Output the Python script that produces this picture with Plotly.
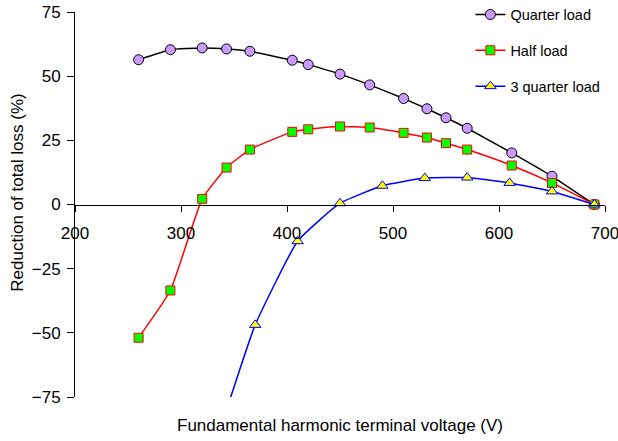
import plotly.graph_objects as go

# Data
quarter_x = [260, 290, 320, 343, 365, 405, 420, 450, 478, 510, 532, 550, 570, 612, 650, 690]
quarter_y = [56.4, 60.3, 61.0, 60.6, 59.7, 56.2, 54.5, 50.8, 46.6, 41.3, 37.3, 33.8, 29.7, 20.1, 11.0, 0.0]

half_x = [260, 290, 320, 343, 365, 405, 420, 450, 478, 510, 532, 550, 570, 612, 650, 690]
half_y = [-51.9, -33.5, 2.2, 14.4, 21.4, 28.3, 29.3, 30.4, 30.0, 27.9, 26.1, 23.9, 21.4, 15.2, 8.4, 0.0]

tq_x = [343, 370, 410, 450, 490, 530, 570, 610, 650, 690]
tq_y = [-80.0, -46.9, -14.3, 0.5, 7.3, 10.3, 10.5, 8.4, 5.1, 0.0]

x_ticks = [200, 300, 400, 500, 600, 700]
y_ticks = [-75, -50, -25, 0, 25, 50, 75]

FONT = "Liberation Sans, Arial, sans-serif"

fig = go.Figure()
fig.add_trace(go.Scatter(
    x=quarter_x, y=quarter_y, name="Quarter load", mode="lines+markers",
    line=dict(color="black", width=1.5, shape="spline", smoothing=0.4),
    marker=dict(symbol="circle", size=10, color="#CC99FF", line=dict(color="black", width=1)),
    legendgroup="a"))
fig.add_trace(go.Scatter(
    x=half_x, y=half_y, name="Half load", mode="lines+markers",
    line=dict(color="#FF0000", width=1.5, shape="spline", smoothing=0.4),
    marker=dict(symbol="square", size=9, color="#00FF00", line=dict(color="#FF0000", width=1)),
    legendgroup="b"))
fig.add_trace(go.Scatter(
    x=tq_x, y=tq_y, name="3 quarter load", mode="lines+markers",
    line=dict(color="#0000FF", width=1.5, shape="spline", smoothing=0.4),
    marker=dict(symbol="triangle-up", size=10, color="#FFFF00", line=dict(color="#0000FF", width=1)),
    legendgroup="c"))

fig.update_layout(
    width=618, height=441,
    margin=dict(l=75, r=13, t=12, b=44, autoexpand=False),
    paper_bgcolor="white", plot_bgcolor="white",
    font=dict(family=FONT, size=17, color="black"),
    showlegend=True,
    legend=dict(x=0.746, y=1.035, xanchor="left", yanchor="top",
                font=dict(size=14.5), tracegroupgap=14, bgcolor="rgba(0,0,0,0)"),
    xaxis=dict(range=[200, 700], tickvals=x_ticks, showline=True, linecolor="black",
               linewidth=1, ticks="outside", ticklen=6, tickcolor="black",
               showgrid=False, zeroline=False, anchor="free", position=0.5,
               ticklabelstandoff=7, automargin=False, ticklabeloverflow="allow"),
    yaxis=dict(range=[-75, 75], tickvals=y_ticks, showline=True, linecolor="black",
               linewidth=1, ticks="outside", ticklen=7, tickcolor="black",
               showgrid=False, zeroline=False, ticklabelstandoff=3, automargin=False,
               ticklabeloverflow="allow"),
    annotations=[
        dict(text="Fundamental harmonic terminal voltage (V)", xref="paper", yref="paper",
             x=0.5, y=-0.073, xanchor="center", yanchor="middle", showarrow=False,
             font=dict(size=17)),
        dict(text="Reduction of total loss (%)", xref="paper", yref="paper",
             x=-0.108, y=0.53, xanchor="center", yanchor="middle", showarrow=False,
             textangle=-90, font=dict(size=17)),
    ],
)

fig.write_html("out.html", config={"displayModeBar": False},
               post_script="document.body.style.margin='0';")
